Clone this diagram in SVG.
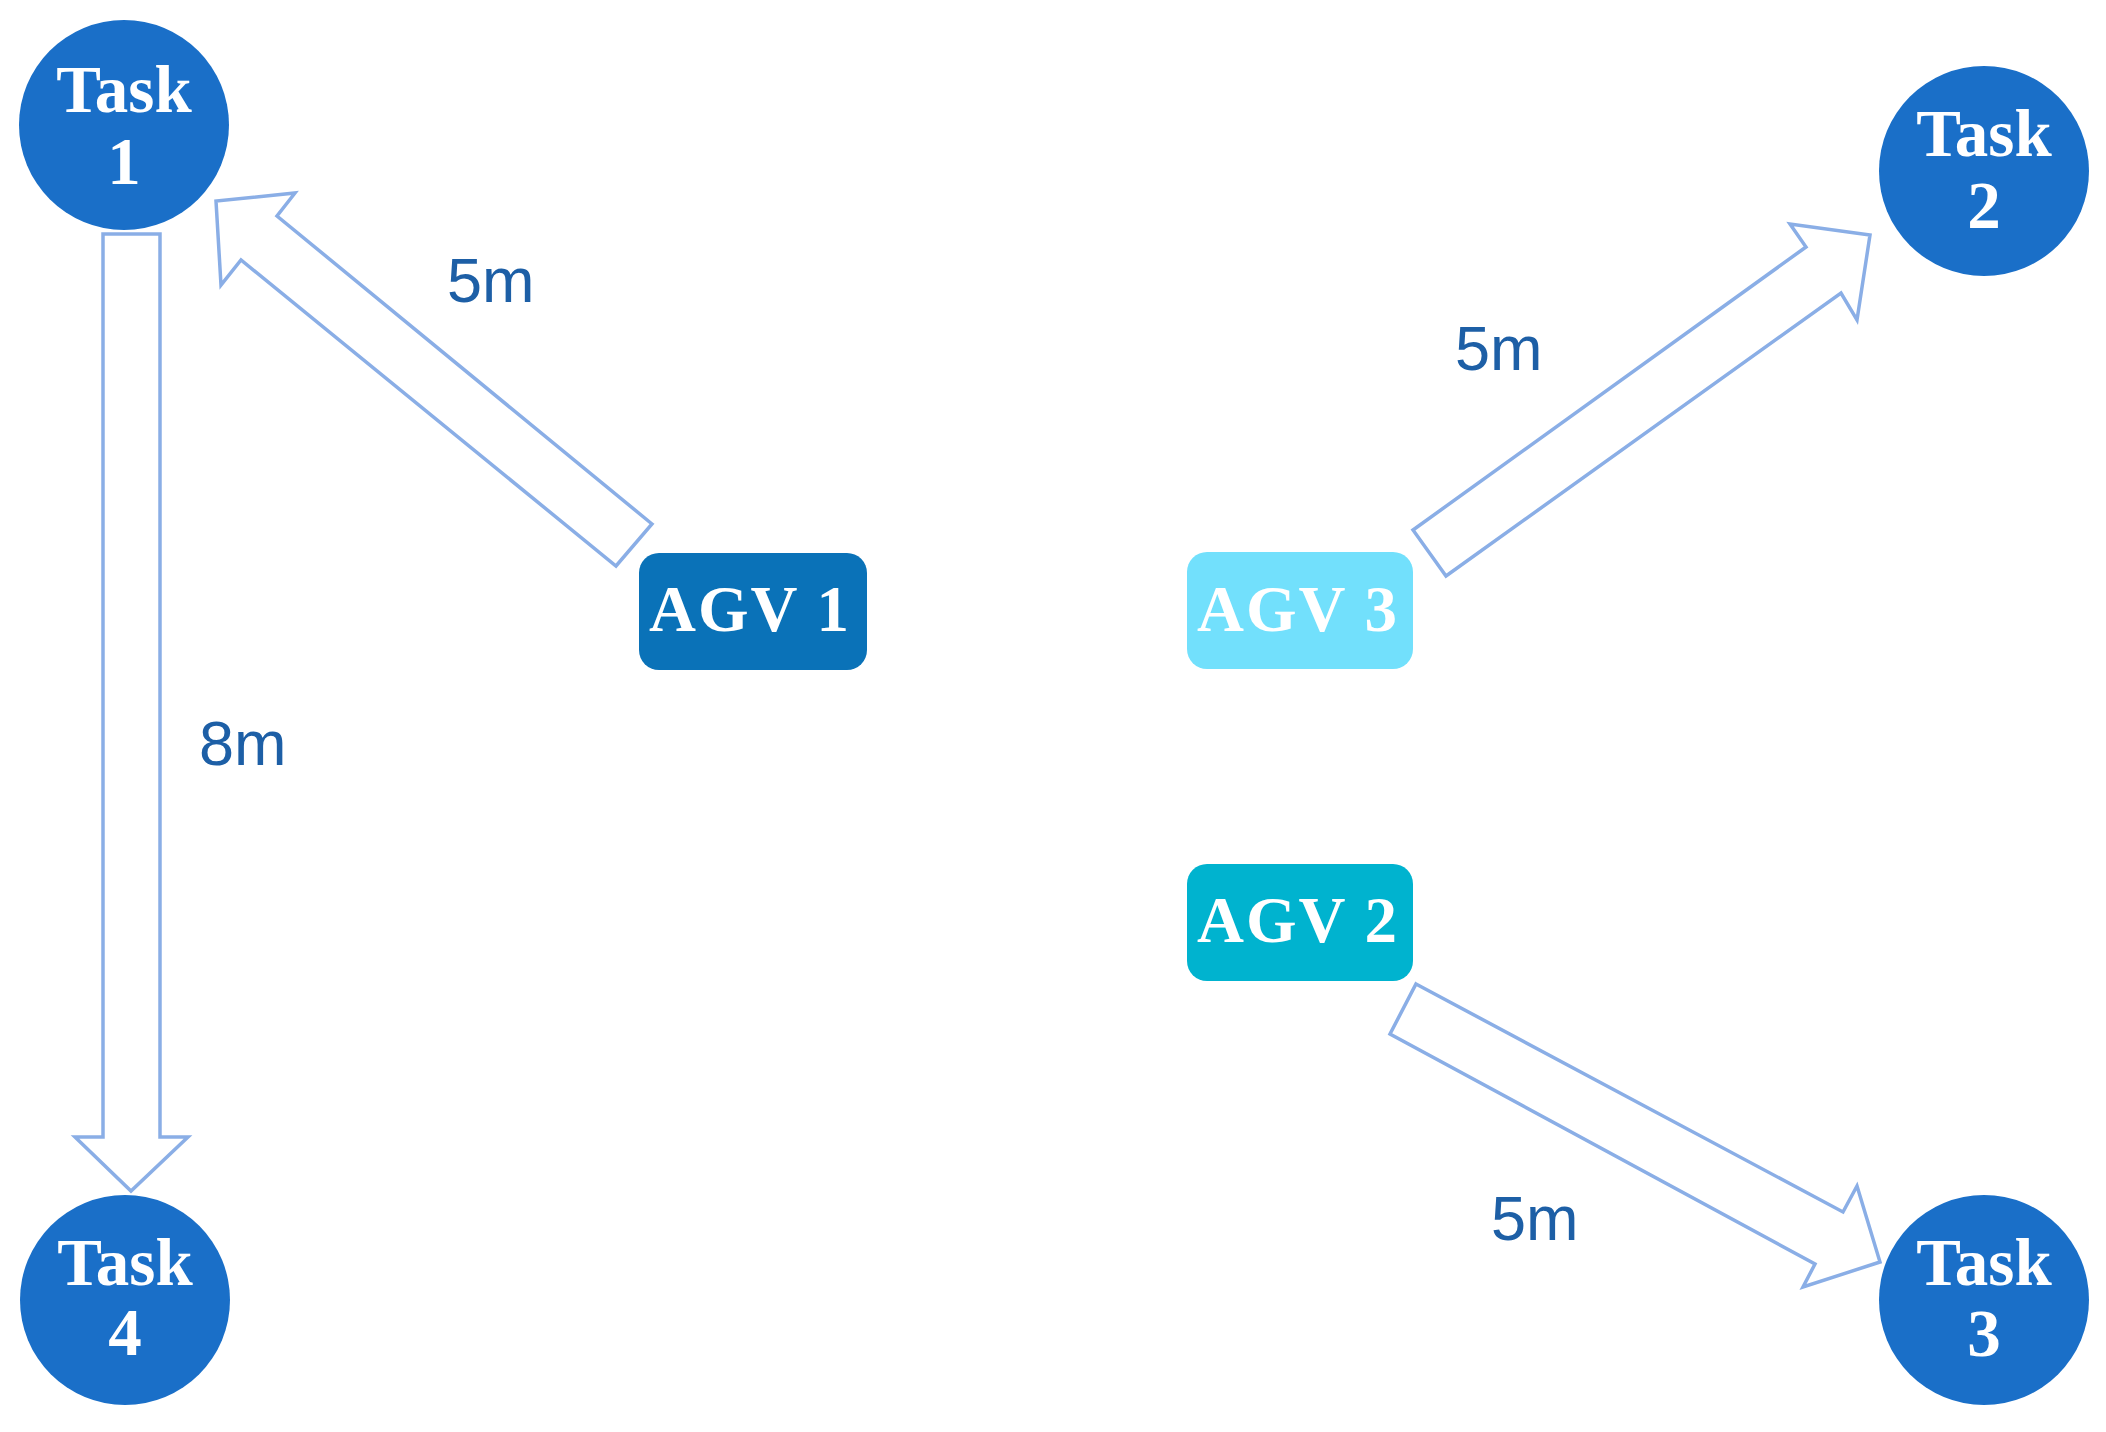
<svg xmlns="http://www.w3.org/2000/svg" width="2106" height="1432" viewBox="0 0 2106 1432">
<style>
.task{fill:#1a6fc8}
.tt{font-family:"Liberation Serif","Times New Roman",serif;font-weight:bold;font-size:67px;fill:#ffffff;text-anchor:middle}
.agv-t{font-family:"Liberation Serif","Times New Roman",serif;font-weight:bold;font-size:65px;fill:#ffffff;text-anchor:middle;letter-spacing:2px}
.arr{fill:#ffffff;stroke:#8aaee6;stroke-width:3.5;stroke-linejoin:miter}
.lbl{font-family:"Liberation Sans",Arial,sans-serif;font-size:63px;fill:#1d5fa6}
</style>
<rect width="2106" height="1432" fill="#ffffff"/>
<g id="connectors">
<polygon class="arr" points="652,524 277,216 295,193 216,201 221,285 241,260 616,566"/>
<polygon class="arr" points="1413,530 1806,247 1790,224 1870,235 1857,320 1841,293 1446,576"/>
<polygon class="arr" points="1416,984 1843,1212 1857,1186 1880,1262 1803,1287 1815,1264 1390,1034"/>
<polygon class="arr" points="103,234 160,234 160,1137 188,1137 131,1191 75,1137 103,1137"/>
<text class="lbl" x="447" y="302">5m</text>
<text class="lbl" x="1455" y="370">5m</text>
<text class="lbl" x="1491" y="1240">5m</text>
<text class="lbl" x="199" y="765">8m</text>
</g>
<g id="task1">
<circle class="task" cx="124" cy="125" r="105"/>
<text class="tt" x="124" y="112">Task</text>
<text class="tt" x="124" y="184">1</text>
</g>
<g id="task2">
<circle class="task" cx="1984" cy="171" r="105"/>
<text class="tt" x="1984" y="156">Task</text>
<text class="tt" x="1984" y="228">2</text>
</g>
<g id="task3">
<circle class="task" cx="1984" cy="1300" r="105"/>
<text class="tt" x="1984" y="1285">Task</text>
<text class="tt" x="1984" y="1356">3</text>
</g>
<g id="task4">
<circle class="task" cx="125" cy="1300" r="105"/>
<text class="tt" x="125" y="1285">Task</text>
<text class="tt" x="125" y="1355">4</text>
</g>
<g id="agv1">
<rect x="639" y="553" width="228" height="117" rx="20" fill="#0a72b8"/>
<text class="agv-t" x="750" y="631">AGV 1</text>
</g>
<g id="agv3">
<rect x="1187" y="552" width="226" height="117" rx="20" fill="#72e0fc"/>
<text class="agv-t" x="1298" y="631">AGV 3</text>
</g>
<g id="agv2">
<rect x="1187" y="864" width="226" height="117" rx="20" fill="#00b3cf"/>
<text class="agv-t" x="1298" y="942">AGV 2</text>
</g>
</svg>
